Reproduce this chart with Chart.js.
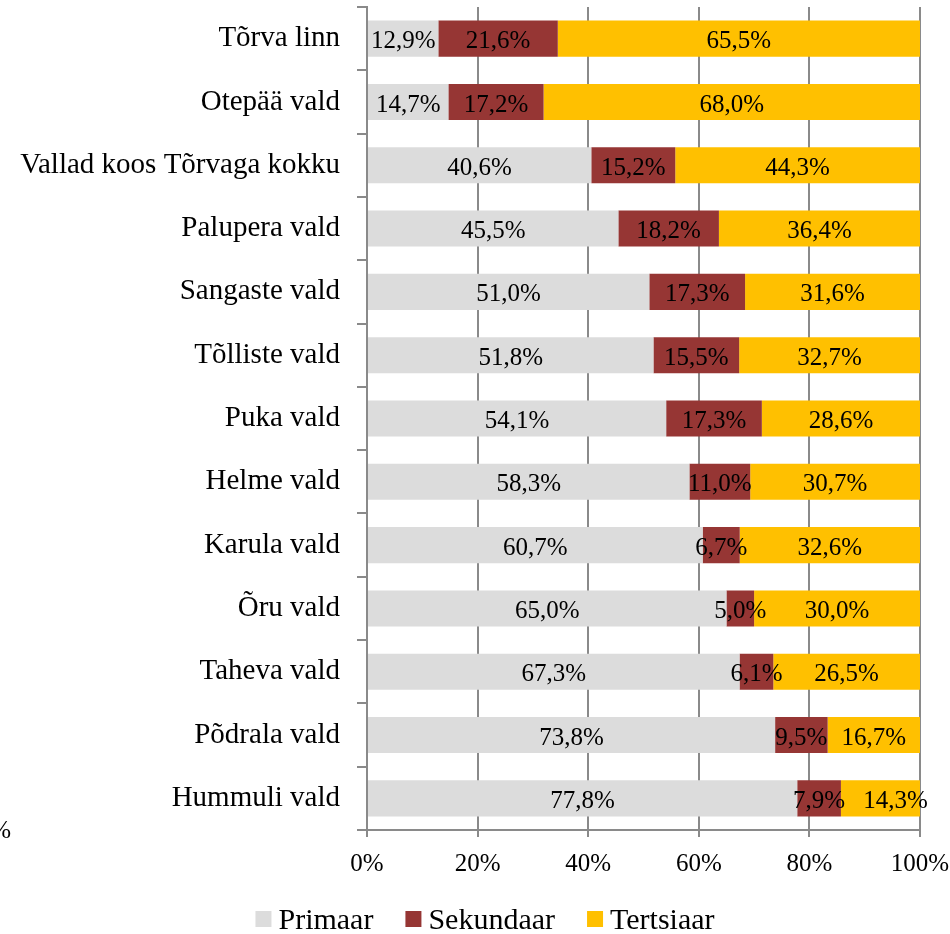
<!DOCTYPE html>
<html>
<head>
<meta charset="utf-8">
<script src="https://cdn.jsdelivr.net/npm/chart.js@4.4.1/dist/chart.umd.min.js"></script>
<style>
    html, body { margin: 0; padding: 0; background: #fff; }
    #wrap { width: 950px; height: 934px; position: relative; }
</style>
</head>
<body>
<div id="wrap"><canvas id="chart" width="950" height="934"></canvas></div>
<script>
const categories = [
    'Tõrva linn', 'Otepää vald', 'Vallad koos Tõrvaga kokku', 'Palupera vald',
    'Sangaste vald', 'Tõlliste vald', 'Puka vald', 'Helme vald', 'Karula vald',
    'Õru vald', 'Taheva vald', 'Põdrala vald', 'Hummuli vald'
];
const primaar   = [12.9, 14.7, 40.6, 45.5, 51.0, 51.8, 54.1, 58.3, 60.7, 65.0, 67.3, 73.8, 77.8];
const sekundaar = [21.6, 17.2, 15.2, 18.2, 17.3, 15.5, 17.3, 11.0, 6.7, 5.0, 6.1, 9.5, 7.9];
const tertsiaar = [65.5, 68.0, 44.3, 36.4, 31.6, 32.7, 28.6, 30.7, 32.6, 30.0, 26.5, 16.7, 14.3];
const seriesNames = ['Primaar', 'Sekundaar', 'Tertsiaar'];
const xTicks = [0, 20, 40, 60, 80, 100];

const colors = ['#dcdcdc', '#963634', '#ffc000'];
const serif = "'Liberation Serif', 'Times New Roman', serif";
const gridColor = '#8a8a8a';

const raw = [primaar, sekundaar, tertsiaar];
const totals = categories.map((_, i) => raw.reduce((s, arr) => s + arr[i], 0));
const share = (arr) => arr.map((v, i) => v / totals[i] * 100);
const fmt = (v) => v.toFixed(1).replace('.', ',') + '%';

// labels centred in their segment (one was nudged by hand in the original)
const nudge = { '2-12': 15 };
const segmentLabels = {
    id: 'segmentLabels',
    afterDatasetsDraw(chart) {
        const { ctx } = chart;
        ctx.save();
        ctx.font = '25px ' + serif;
        ctx.fillStyle = '#000';
        ctx.textAlign = 'center';
        ctx.textBaseline = 'middle';
        chart.data.datasets.forEach((ds, d) => {
            chart.getDatasetMeta(d).data.forEach((bar, i) => {
                const { x, base, y } = bar.getProps(['x', 'base', 'y'], true);
                const cx = (x + base) / 2 + (nudge[d + '-' + i] || 0);
                ctx.fillText(fmt(raw[d][i]), cx, y + 3);
            });
        });
        ctx.restore();
    }
};

// legend like the office one: small square, short gap, wide spacing
const bottomLegend = {
    id: 'bottomLegend',
    afterDraw(chart) {
        const { ctx } = chart;
        const box = 16, gap = 7, spacing = 32, centre = 485, baseline = 929;
        ctx.save();
        ctx.font = '30px ' + serif;
        ctx.textBaseline = 'alphabetic';
        ctx.textAlign = 'left';
        const widths = chart.data.datasets.map(ds => ctx.measureText(ds.label).width);
        const total = widths.reduce((s, w) => s + box + gap + w, 0) + spacing * (widths.length - 1);
        let x = centre - total / 2;
        chart.data.datasets.forEach((ds, d) => {
            ctx.fillStyle = ds.backgroundColor;
            ctx.fillRect(x, 911, box, box);
            ctx.fillStyle = '#000';
            ctx.fillText(ds.label, x + box + gap, baseline);
            x += box + gap + widths[d] + spacing;
        });
        // stray clipped label at the left edge of the original
        ctx.font = '25px ' + serif;
        ctx.textAlign = 'right';
        ctx.fillText('%', 11, 838);
        ctx.restore();
    }
};

const noPad = (s) => { s.paddingTop = 0; s.paddingBottom = 0; s.paddingLeft = 0; s.paddingRight = 0; };

new Chart(document.getElementById('chart'), {
    type: 'bar',
    data: {
        labels: categories,
        datasets: raw.map((arr, d) => ({
            label: seriesNames[d],
            data: share(arr),
            backgroundColor: colors[d],
            borderWidth: 0,
            categoryPercentage: 1,
            barPercentage: 0.57
        }))
    },
    options: {
        indexAxis: 'y',
        responsive: false,
        animation: false,
        events: [],
        layout: { padding: { top: 7, right: 30, left: 0, bottom: 0 } },
        scales: {
            x: {
                stacked: true,
                min: 0,
                max: 100,
                afterBuildTicks: (s) => { s.ticks = xTicks.map(v => ({ value: v })); },
                afterFit: (s) => { s.height = 104; noPad(s); },
                grid: { color: gridColor, lineWidth: 2, tickLength: 7 },
                border: { color: gridColor, width: 2 },
                ticks: {
                    color: '#000',
                    font: { family: serif, size: 25 },
                    padding: 12,
                    maxRotation: 0,
                    callback: (v) => v + '%'
                }
            },
            y: {
                stacked: true,
                afterFit: (s) => { s.width = 367; noPad(s); },
                grid: { color: gridColor, lineWidth: 2, tickLength: 10, offset: true, drawOnChartArea: false },
                border: { color: gridColor, width: 2 },
                ticks: {
                    color: '#000',
                    font: { family: serif, size: 29 },
                    padding: 17
                }
            }
        },
        plugins: {
            legend: { display: false },
            tooltip: { enabled: false }
        }
    },
    plugins: [segmentLabels, bottomLegend]
});
</script>
</body>
</html>
